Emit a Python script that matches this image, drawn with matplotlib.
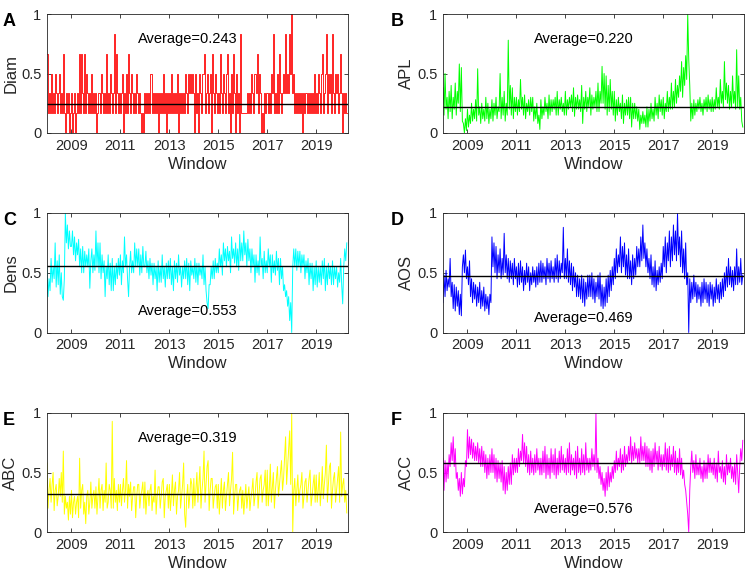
import matplotlib
matplotlib.use("Agg")
import matplotlib.pyplot as plt
import numpy as np

plt.rcParams['font.family'] = ['Liberation Sans', 'DejaVu Sans']

# two samples per month, starting Jan 2008
start_year = 2008.0
per_year = 24

diam = [.667, .167, .333, .167, .5, .167, .333, .167, .5, .333, .167, .333, .5, .167, .333, .167, .667, .167, .0, .333, .167, .333, .0, .167,
        .333, .0, .167, .333, .0, .167, .333, .167, .667, .167, .667, .333, .167, .667, .167, .5, .333, .167, .333, .167, .5, .167, .333, .167,
        .333, .0, .167, .333, .167, .5, .333, .167, .333, .167, .667, .167, .333, .167, .5, .333, .167, .333, .833, .167, .667, .333, .167, .333,
        .167, .333, .5, .0, .333, .167, .5, .167, .667, .333, .167, .5, .333, .167, .333, .167, .5, .333, .167, .333, .167, .0, .167, .0,
        .333, .167, .333, .167, .333, .167, .5, .167, .333, .167, .333, .167, .333, .0, .333, .167, .333, .167, .5, .167, .333, .0, .333, .167,
        .333, .167, .5, .167, .333, .167, .333, .167, .5, .0, .333, .167, .333, .167, .333, .167, .5, .333, .167, .5, .333, .5, .333, .5,
        .333, .0, .5, .167, .333, .0, .5, .333, .167, .5, .667, .167, .333, .5, .167, .333, .5, .0, .667, .333, .167, .5, .333, .167,
        .333, .167, .667, .333, .167, .5, .333, .167, .5, .667, .167, .333, .0, .5, .167, .667, .333, .0, .5, .167, .333, .0, .833, .167,
        .167, .167, .167, .167, .167, .333, .167, .333, .167, .5, .333, .167, .5, .333, .667, .167, .5, .333, .0, .167, .0, .333, .167, .333,
        .333, .167, .333, .167, .5, .333, .833, .167, .333, .167, .5, .167, .667, .333, .167, .333, .5, .333, .833, .333, .5, .333, .833, .5,
        1.0, .333, .5, .167, .333, .167, .333, .167, .333, .167, .333, .0, .333, .167, .333, .167, .333, .167, .333, .167, .333, .167, .5, .167,
        .333, .167, .5, .333, .167, .5, .667, .167, .333, .5, .833, .167, .5, .333, .5, .167, .833, .333, .167, .5, .333, .5, .167, .333,
        .667, .333, .0, .333, .167, .333, .167]

apl = [.38, .15, .50, .20, .30, .12, .35, .18, .40, .12, .30, .20, .42, .15, .35, .25, .58, .18, .55, .10, .08, .00, .12, .02,
       .20, .05, .15, .08, .25, .10, .20, .12, .28, .10, .54, .15, .22, .08, .25, .12, .20, .10, .30, .12, .25, .08, .20, .12,
       .28, .10, .25, .15, .30, .12, .22, .18, .50, .12, .30, .15, .35, .10, .25, .15, .78, .20, .40, .15, .38, .12, .30, .18,
       .30, .15, .28, .18, .45, .20, .30, .15, .32, .12, .25, .18, .28, .15, .30, .18, .30, .10, .22, .12, .25, .08, .15, .03,
       .28, .12, .22, .15, .30, .18, .25, .12, .32, .15, .28, .18, .28, .20, .30, .15, .35, .15, .28, .20, .30, .18, .25, .15,
       .35, .15, .28, .20, .30, .22, .32, .18, .38, .14, .30, .20, .32, .20, .28, .18, .40, .08, .30, .20, .35, .18, .30, .22,
       .38, .15, .32, .20, .30, .22, .35, .18, .42, .18, .35, .25, .56, .25, .50, .20, .48, .15, .40, .18, .45, .20, .35, .15,
       .35, .10, .28, .15, .30, .18, .25, .12, .32, .08, .25, .15, .28, .15, .30, .12, .30, .05, .25, .12, .25, .12, .22, .10,
       .20, .03, .15, .08, .18, .08, .15, .05, .22, .05, .20, .10, .25, .12, .20, .10, .30, .15, .25, .12, .32, .18, .28, .15,
       .30, .12, .25, .18, .35, .18, .30, .20, .42, .20, .35, .22, .45, .25, .40, .30, .48, .35, .60, .30, .55, .40, .65, .45,
       1.00, .62, .40, .10, .25, .12, .28, .15, .25, .18, .28, .20, .30, .18, .25, .15, .28, .20, .30, .18, .32, .20, .28, .18,
       .30, .18, .28, .20, .38, .22, .30, .20, .45, .25, .35, .22, .60, .28, .42, .25, .40, .20, .35, .22, .48, .25, .35, .20,
       .70, .22, .48, .20, .30, .10, .05]

dens = [.55, .30, .45, .35, .62, .42, .55, .45, .75, .38, .60, .40, .65, .32, .50, .30, .27, .45, 1.00, .75, .90, .70, .85, .72,
        .72, .85, .65, .80, .60, .75, .65, .78, .55, .70, .50, .72, .50, .68, .55, .65, .55, .70, .37, .60, .70, .50, .65, .52,
        .85, .55, .75, .50, .75, .45, .65, .50, .60, .30, .55, .45, .65, .40, .58, .35, .62, .35, .55, .40, .58, .45, .62, .48,
        .65, .40, .60, .50, .80, .55, .65, .45, .30, .55, .68, .50, .60, .50, .75, .55, .70, .55, .70, .48, .65, .50, .72, .55,
        .55, .68, .50, .60, .45, .62, .48, .58, .40, .58, .45, .55, .35, .60, .42, .55, .42, .65, .45, .55, .38, .58, .45, .60,
        .45, .62, .40, .55, .35, .60, .45, .58, .42, .65, .48, .55, .38, .55, .45, .60, .45, .62, .40, .58, .35, .60, .48, .55,
        .45, .62, .42, .58, .40, .58, .48, .55, .45, .65, .40, .55, .35, .25, .20, .40, .40, .55, .45, .60, .45, .62, .50, .58,
        .50, .70, .55, .65, .48, .75, .60, .70, .55, .72, .60, .68, .50, .80, .62, .70, .58, .75, .55, .70, .52, .82, .60, .75,
        .60, .85, .65, .75, .55, .78, .60, .70, .50, .70, .55, .65, .42, .65, .50, .60, .48, .80, .55, .62, .45, .68, .50, .60,
        .50, .70, .55, .65, .42, .65, .50, .60, .48, .68, .52, .62, .40, .62, .45, .55, .35, .40, .30, .35, .22, .30, .10, .25,
        .00, .55, .70, .55, .70, .52, .68, .55, .68, .50, .65, .55, .65, .45, .60, .50, .62, .40, .58, .45, .58, .35, .55, .40,
        .60, .38, .55, .42, .55, .40, .60, .45, .62, .35, .55, .40, .58, .45, .55, .40, .60, .40, .55, .45, .55, .38, .50, .42,
        .62, .40, .24, .55, .70, .60, .75]

aos = [.25, .48, .30, .52, .35, .45, .38, .62, .30, .42, .20, .40, .18, .38, .22, .35, .15, .32, .14, .55, .65, .50, .69, .45,
       .55, .40, .60, .30, .45, .25, .42, .28, .40, .22, .38, .25, .42, .20, .35, .22, .38, .18, .32, .20, .30, .15, .32, .25,
       .80, .55, .75, .50, .72, .45, .65, .50, .70, .45, .62, .48, .83, .50, .65, .45, .62, .42, .60, .45, .58, .40, .62, .45,
       .55, .38, .58, .40, .60, .42, .55, .35, .52, .40, .58, .42, .55, .35, .50, .40, .55, .42, .52, .38, .55, .40, .58, .42,
       .60, .42, .58, .45, .55, .40, .62, .45, .58, .42, .60, .45, .55, .42, .62, .45, .65, .42, .60, .45, .58, .50, .88, .45,
       .62, .45, .70, .42, .60, .40, .58, .35, .55, .38, .50, .30, .48, .30, .45, .28, .48, .25, .45, .22, .42, .28, .48, .30,
       .48, .30, .50, .28, .45, .25, .42, .30, .48, .28, .50, .22, .40, .20, .38, .22, .45, .25, .48, .30, .52, .35, .55, .40,
       .62, .45, .70, .50, .65, .55, .80, .50, .72, .55, .75, .48, .65, .45, .70, .45, .60, .40, .65, .45, .62, .48, .72, .55,
       .70, .55, .80, .60, .90, .62, .75, .55, .70, .50, .62, .45, .65, .40, .55, .38, .60, .35, .52, .40, .55, .42, .58, .45,
       .72, .55, .80, .50, .75, .60, .85, .55, .80, .60, .90, .65, .85, .60, 1.00, .65, .80, .55, .85, .50, .70, .45, .75, .40,
       .50, .00, .45, .25, .42, .28, .48, .30, .42, .25, .40, .28, .38, .22, .42, .25, .45, .28, .42, .25, .40, .22, .42, .28,
       .40, .22, .38, .25, .45, .28, .40, .25, .42, .28, .45, .30, .50, .35, .55, .38, .62, .40, .55, .38, .52, .35, .55, .40,
       .70, .40, .55, .42, .62, .40, .48]

abc = [.58, .20, .35, .45, .25, .40, .50, .18, .35, .40, .22, .30, .45, .30, .50, .25, .68, .15, .30, .20, .25, .10, .30, .15,
       .35, .12, .25, .30, .15, .25, .30, .12, .62, .20, .35, .40, .15, .25, .07, .30, .35, .15, .25, .42, .20, .30, .35, .20,
       .38, .15, .30, .45, .20, .35, .40, .18, .35, .25, .58, .20, .25, .40, .35, .20, .93, .20, .45, .25, .35, .18, .40, .25,
       .40, .22, .35, .45, .25, .35, .60, .20, .40, .30, .42, .18, .30, .38, .38, .12, .30, .40, .40, .20, .30, .35, .42, .20,
       .42, .15, .30, .35, .22, .35, .40, .18, .30, .25, .52, .15, .30, .38, .38, .20, .30, .42, .45, .12, .30, .35, .40, .20,
       .40, .18, .30, .48, .22, .35, .42, .15, .30, .35, .50, .20, .30, .40, .58, .15, .04, .30, .40, .20, .30, .45, .40, .20,
       .45, .22, .35, .50, .25, .40, .55, .20, .35, .45, .68, .25, .40, .55, .60, .18, .35, .45, .45, .20, .30, .38, .40, .20,
       .40, .15, .30, .45, .20, .35, .42, .18, .30, .40, .50, .22, .35, .45, .67, .15, .30, .40, .40, .18, .30, .35, .38, .20,
       .35, .15, .28, .40, .20, .30, .38, .18, .28, .35, .45, .22, .30, .42, .50, .20, .32, .45, .48, .25, .35, .40, .52, .22,
       .52, .22, .35, .57, .25, .38, .50, .20, .35, .45, .55, .30, .40, .50, .60, .35, .45, .62, .80, .40, .55, .70, .85, .40,
       1.00, .00, .35, .45, .22, .35, .48, .25, .35, .40, .50, .20, .30, .42, .45, .25, .35, .45, .52, .22, .30, .40, .48, .25,
       .48, .25, .35, .50, .22, .35, .55, .28, .40, .50, .73, .25, .40, .55, .58, .20, .35, .45, .50, .25, .35, .45, .55, .25,
       .84, .30, .40, .45, .25, .35, .16]

acc = [.62, .35, .60, .42, .58, .45, .65, .55, .75, .60, .80, .55, .70, .45, .50, .35, .45, .30, .50, .32, .45, .38, .60, .55,
       .86, .62, .80, .65, .78, .62, .75, .60, .72, .60, .75, .58, .70, .55, .72, .55, .68, .50, .65, .45, .62, .48, .65, .50,
       .70, .50, .65, .45, .62, .42, .60, .45, .58, .42, .60, .35, .55, .32, .50, .35, .55, .40, .58, .40, .65, .48, .62, .50,
       .62, .50, .70, .55, .68, .60, .82, .58, .75, .55, .72, .50, .65, .48, .68, .50, .62, .48, .65, .50, .70, .52, .62, .48,
       .62, .48, .68, .50, .72, .45, .65, .48, .62, .45, .70, .50, .65, .48, .70, .45, .62, .48, .68, .50, .72, .52, .65, .50,
       .62, .48, .70, .50, .75, .48, .65, .52, .62, .48, .68, .45, .72, .50, .62, .48, .70, .50, .65, .48, .75, .52, .62, .50,
       .62, .52, .70, .55, .65, .52, 1.00, .50, .62, .45, .55, .40, .50, .35, .45, .30, .50, .35, .55, .38, .50, .42, .55, .45,
       .60, .50, .68, .52, .62, .55, .70, .50, .65, .52, .72, .55, .65, .58, .72, .60, .80, .58, .72, .60, .75, .62, .70, .58,
       .70, .58, .80, .60, .72, .60, .75, .55, .72, .55, .70, .52, .68, .50, .70, .55, .75, .58, .68, .52, .72, .55, .65, .52,
       .65, .55, .75, .52, .70, .50, .72, .52, .65, .55, .72, .50, .68, .48, .62, .50, .70, .48, .62, .45, .52, .40, .35, .25,
       .15, .00, .35, .55, .68, .50, .60, .45, .65, .48, .58, .48, .62, .45, .55, .42, .60, .45, .58, .45, .65, .50, .62, .50,
       .58, .48, .62, .45, .58, .42, .68, .50, .55, .45, .60, .42, .55, .40, .65, .48, .58, .50, .62, .45, .55, .42, .58, .40,
       .65, .50, .33, .55, .70, .60, .77]

names = ['Diam', 'APL', 'Dens', 'AOS', 'ABC', 'ACC']
letters = ['A', 'B', 'C', 'D', 'E', 'F']
averages = [0.243, 0.220, 0.553, 0.469, 0.319, 0.576]
colors = ['#ff0000', '#00ff00', '#00ffff', '#0000ff', '#ffff00', '#ff00ff']
series = [diam, apl, dens, aos, abc, acc]
# where the "Average=" note sits (upper or lower part of the panel)
text_y = [0.79, 0.79, 0.18, 0.12, 0.79, 0.195]

W, H = 748, 576
fig = plt.figure(figsize=(W / 100, H / 100), dpi=100)

# axes boxes in pixels: left, top, right, bottom
lefts = [47, 443]
rights = [348, 744]
tops = [14, 213, 413]
bottoms = [133, 332.5, 532]

axis_col = '#262626'

for i in range(6):
    row, col = i // 2, i % 2
    l, r = lefts[col], rights[col]
    t, b = tops[row], bottoms[row]
    ax = fig.add_axes([l / W, 1 - b / H, (r - l) / W, (b - t) / H])

    vals = np.array(series[i])
    x = start_year + np.arange(len(vals)) / per_year
    if i == 0:
        # diameter takes discrete levels, so draw it as steps
        ax.plot(x, vals, color=colors[i], lw=0.6, drawstyle='steps-mid')
    else:
        ax.plot(x, vals, color=colors[i], lw=0.7)
    ax.axhline(averages[i], color='black', lw=1.0)

    ax.set_xlim(2008.0, 2020.3)
    ax.set_ylim(0, 1)
    ax.set_xticks([2009, 2011, 2013, 2015, 2017, 2019])
    ax.set_xticklabels(['2009', '2011', '2013', '2015', '2017', '2019'])
    ax.set_yticks([0, 0.5, 1])
    ax.set_yticklabels(['0', '0.5', '1'])
    ax.tick_params(direction='in', length=3, width=0.6, top=True, right=True,
                   labelsize=10.5, colors=axis_col, pad=4)
    for sp in ax.spines.values():
        sp.set_color(axis_col)
        sp.set_linewidth(0.6)

    ax.set_xlabel('Window', fontsize=12, color=axis_col, labelpad=3)
    ax.set_ylabel(names[i], fontsize=12, color=axis_col, labelpad=2)

    ax.text(2013.75, text_y[i], f'Average={averages[i]:.3f}', ha='center', va='center',
            fontsize=10.5, color='black')

    # panel letter
    lx = 3 if col == 0 else 391
    fig.text(lx / W, 1 - (t - 1) / H, letters[i], fontsize=13, fontweight='bold',
             ha='left', va='top')

fig.savefig('out.png', dpi=100)
